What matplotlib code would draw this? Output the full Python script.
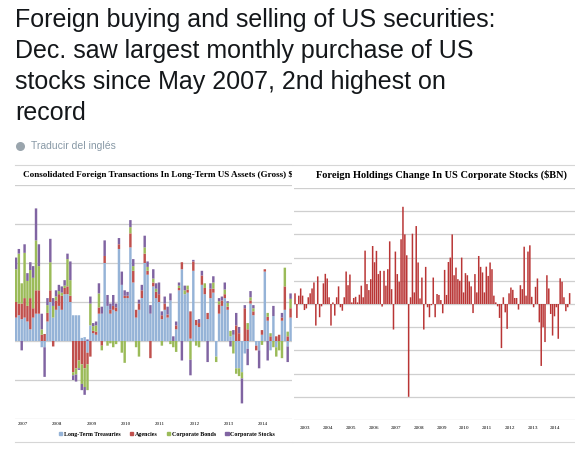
import numpy as np
import matplotlib.pyplot as plt
from matplotlib.patches import Patch
from matplotlib.lines import Line2D

# tweet text
tweet_lines = ["Foreign buying and selling of US securities:",
               "Dec. saw largest monthly purchase of US",
               "stocks since May 2007, 2nd highest on",
               "record"]
translate_txt = "Traducir del inglés"

# left chart: monthly flows ($bn), Jan 2007 onward
treasuries = [30, 33, 28, 30, 25, 15, 30, 35, 35, -8, -8, 25,
              50, 30, 40, 45, 40, 60, 60, 50, 33, 33, 33, 4,
              5, -15, 20, 10, 8, 35, 35, 100, 45, 35, 40, 38,
              118, 72, 55, 55, 120, 75, 30, 40, 55, 100, 85, 35,
              70, 55, 50, 28, 40, 30, 52, 0, 15, 65, 92, 60,
              62, 3, 90, 20, 18, 72, 60, 28, 55, 62, -20, 35,
              45, 55, 40, 6, 8, -35, -35, -40, -16, -10, 48, 33,
              -6, -12, 8, 89, 26, -12, 32, -8, 0, 26, 40, -7, 30]
agencies = [20, 15, 20, 25, 20, 40, 12, 30, 30, 8, 9, 11,
            15, -7, 12, 15, 18, 8, 10, 8, -40, -35, -25, -30,
            -35, -15, -20, 3, 4, 8, -6, 9, 0, 5, 5, 5,
            6, 0, 3, 3, 18, 15, 10, 8, 10, 12, 5, -22,
            5, 8, 10, 5, 8, 4, 0, 0, 5, 3, 9, 0,
            4, 35, 12, 7, 5, 12, 8, 8, 12, 5, 0, 12,
            7, 5, 4, 0, 0, 20, 10, 0, 42, 15, 4, 5,
            -6, 0, 6, 3, 5, 6, 0, 6, 8, 4, 30, 6, 12]
corp_bonds = [42, 64, 26, 58, 32, 36, 39, 64, 31, 7, 0, 10,
              36, 15, 5, 4, 4, 3, 35, 20, -4, -8, -10, -25,
              -24, -33, 28, 6, 8, 18, -6, 0, -6, -3, -8, -4,
              0, -15, -28, 0, 8, 6, -8, -20, 0, 8, 5, 0,
              5, 4, 0, -6, 0, 0, -4, -8, -14, 3, 0, 5,
              5, -24, 0, -6, -8, 0, 6, 0, 0, 8, -7, 4,
              0, 6, 5, 7, -16, -7, -10, -8, 0, 8, 4, 4,
              0, 0, -5, 0, 5, 4, -8, -12, -12, -22, 24, 6, 12]
corp_stocks = [15, 6, -12, 11, 10, 10, 15, 41, 28, 20, -38, 9,
               30, 10, 8, 8, 8, 7, 7, 24, -6, -9, -2, -8,
               -10, 2, 9, 4, 5, 13, 9, 20, 14, 8, 14, 5,
               8, 17, 7, 5, 9, 9, 0, 5, 7, 15, 7, 11,
               12, 7, 15, 5, 9, 10, 9, 6, 5, 4, -25, 6,
               0, -20, 2, 0, 5, 6, 0, -27, 7, 8, 0, 4,
               5, 9, 2, -7, 6, 16, 8, -32, 4, -21, 8, 4,
               0, -23, 0, 0, -25, 0, 13, 0, 0, 6, 0, -20, 7]
left_years = ['2007', '2008', '2009', '2010', '2011', '2012', '2013', '2014', '2015']
series_names = ['Long-Term Treasuries', 'Agencies', 'Corporate Bonds', 'Corporate Stocks']

# right chart: monthly change in foreign holdings of US stocks ($bn), Jan 2003 onward
stock_flows = [4.6, -6, 3.6, 6.7, 3.6, -2.6, -1.9, 2.9, 4.6, 6.7, 9.3, -9.3,
               11.9, -5.7, -1, 8.9, 13, 11, 2.9, -9.3, 0.7, -5, 2.9, 7.6,
               -1.4, -2.9, 2.9, 14, 8.1, 12.7, 0.7, 2.6, 3.1, 0.7, 4, 7.9,
               2.9, 23, 8.6, 6, 10.7, 25, 18, 22.9, 12.9, 14.3, -1.1, 14.3,
               7.9, 15, 27, 6.4, -11, 22.6, 12.9, 9.6, 27.9, 41.9, 30, 21,
               -40, 2.9, 30.3, 5, 33.6, 17.9, 2.4, 11.4, -11, 16, -1.4, -5.7,
               -0.5, 11.4, -5.7, 4.3, 3.9, 1.7, -4, 14.7, 3.9, 18.1, 20, 30,
               12.4, 15.7, 10.7, 10, 20, 5, 13.3, 12.4, 9.7, 7.6, -3.9, 12.9,
               5, 20.7, 16, 13.6, 5, 16.1, 12.1, 17.9, 15, 3.6, 0.7, -1,
               -6, -19, 2.9, -3.6, -10.7, 4.6, 7.1, 6.1, 2.6, 2.6, -2.4, 8.1,
               6.4, 24.7, 3.6, 22.6, 25.3, 3.1, -1.4, 7.4, 11, -7.9, -26.7, -10,
               -16.4, 12.4, 6.7, -4.3, -13.6, -5.3, -1.4, -15, 11.1, 9.6, 2.9, -3.1,
               -1.4, 4.7]
right_years = ['2003', '2004', '2005', '2006', '2007', '2008',
               '2009', '2010', '2011', '2012', '2013', '2014']

W, H = 575, 451
colors = ['#95b3d7', '#c0504d', '#9bbb59', '#8064a2']
grid_col = '#cfcfcf'
serif = 'Liberation Serif'


def box(x0, y0, x1, y1):
    # pixel box (top-left origin) -> figure rect
    return [x0 / W, 1 - y1 / H, (x1 - x0) / W, (y1 - y0) / H]


fig = plt.figure(figsize=(W / 100, H / 100), dpi=100)
fig.patch.set_facecolor('white')

# tweet header
for k, line in enumerate(tweet_lines):
    fig.text(15 / W, 1 - (27 + 31 * k) / H, line, fontsize=18,
             family='Liberation Sans', color='#14171a', va='baseline')
fig.text(31 / W, 1 - 146 / H, translate_txt, fontsize=7.5, family='Liberation Sans',
         color='#8899a6', va='center')
fig.add_artist(Line2D([20 / W], [1 - 146 / H], marker='o', ms=6.5, color='#9aa5ad',
                      mec='none', transform=fig.transFigure))

# ---- left panel ----
pan_l = fig.add_axes(box(15, 165, 292, 442))
pan_l.set_xlim(0, 1)
pan_l.set_ylim(0, 1)
pan_l.set_xticks([])
pan_l.set_yticks([])
for s in ['left', 'right']:
    pan_l.spines[s].set_visible(False)
for s in ['top', 'bottom']:
    pan_l.spines[s].set_color('#d6d6d6')
pan_l.text(8 / 277, 1 - 10 / 277, 'Consolidated Foreign Transactions In Long-Term US Assets (Gross) $BN',
           family=serif, weight='bold', fontsize=6.6, va='center', ha='left', clip_on=True)

axl = fig.add_axes(box(15, 185, 292, 419))
n = len(treasuries)
x = np.arange(n)
pos_b = np.zeros(n)
neg_b = np.zeros(n)
for vals, c, name in zip([treasuries, agencies, corp_bonds, corp_stocks], colors, series_names):
    v = np.array(vals, dtype=float)
    p = np.where(v > 0, v, 0)
    q = np.where(v < 0, v, 0)
    for part, base in [(p, pos_b), (q, neg_b)]:
        bars = axl.bar(x, part, bottom=base, width=0.85, color=c, linewidth=0, zorder=3)
        for b in bars:
            b.set_snap(False)
    pos_b += p
    neg_b += q
axl.set_xlim((15 - 16) / 2.86, (292 - 16) / 2.86)
axl.set_ylim(-100, 200)
axl.set_yticks(np.arange(-100, 201, 50))
axl.yaxis.grid(True, color=grid_col, lw=0.9, zorder=0)
axl.set_yticklabels([])
axl.tick_params(length=0)
axl.set_xticks([])
for s in axl.spines.values():
    s.set_visible(False)
axl.patch.set_alpha(0)
for k, yr in enumerate(left_years):
    pan_l.text((16 + (12 * k + 2.4) * 2.86 - 15) / 277, 1 - 259 / 277, yr, family=serif,
               fontsize=3.6, ha='center', va='center', clip_on=True)

handles = [Patch(color=c, label=nm) for c, nm in zip(colors, series_names)]
pan_l.legend(handles=handles, ncol=4, loc='center', bbox_to_anchor=((167 - 15) / 277, 1 - 269 / 277),
             frameon=False, handlelength=0.55, handleheight=0.55, handletextpad=0.25,
             columnspacing=1.6, prop={'family': serif, 'weight': 'bold', 'size': 4.3})

# ---- right panel ----
pan_r = fig.add_axes(box(293, 165, 575, 442))
pan_r.set_xlim(0, 1)
pan_r.set_ylim(0, 1)
pan_r.set_xticks([])
pan_r.set_yticks([])
for s in ['left', 'right']:
    pan_r.spines[s].set_visible(False)
for s in ['top', 'bottom']:
    pan_r.spines[s].set_color('#d6d6d6')
pan_r.text((442 - 293) / 282, 1 - 10 / 277, 'Foreign Holdings Change In US Corporate Stocks ($BN)',
           family=serif, weight='bold', fontsize=7.5, va='center', ha='center', clip_on=True)

axr = fig.add_axes(box(294, 188, 575, 420))
m = len(stock_flows)
xr = np.arange(m)
rbars = axr.bar(xr, stock_flows, width=0.8, color='#b93535', linewidth=0, zorder=3)
for b in rbars:
    b.set_snap(False)
axr.set_xlim((294 - 295) / 1.894, (575 - 295) / 1.894)
axr.set_ylim(-50, 50)
axr.set_yticks(np.arange(-50, 51, 10))
axr.yaxis.grid(True, color=grid_col, lw=0.9, zorder=0)
axr.set_yticklabels([])
axr.tick_params(length=0)
axr.set_xticks([12 * k + 5.5 for k in range(len(right_years))])
axr.set_xticklabels(right_years, family=serif, fontsize=3.8)
axr.tick_params(axis='x', pad=4)
for s in axr.spines.values():
    s.set_visible(False)
axr.patch.set_alpha(0)

fig.savefig('out.png', dpi=100, facecolor='white')
